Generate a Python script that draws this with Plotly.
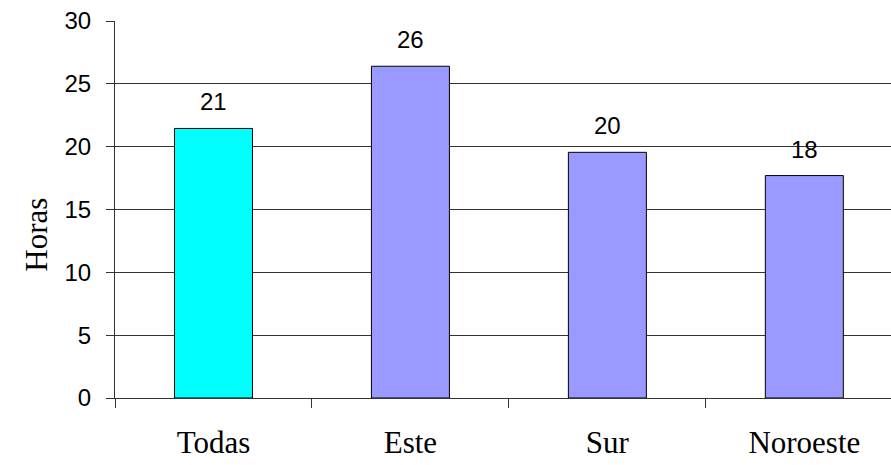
import plotly.graph_objects as go

# Average hours per region
categories = ["Todas", "Este", "Sur", "Noroeste"]
hours = [21.45, 26.4, 19.55, 17.7]
bar_colors = ["#00FFFF", "#9999FF", "#9999FF", "#9999FF"]
y_ticks = [0, 5, 10, 15, 20, 25, 30]

fig = go.Figure()

fig.add_trace(go.Bar(
    x=categories,
    y=hours,
    width=0.396,
    marker=dict(color=bar_colors, line=dict(color="#000000", width=1)),
    hoverinfo="skip",
))

# Value labels above each bar
for cat, val in zip(categories, hours):
    fig.add_annotation(
        x=cat, y=val, text=f"{val:.0f}", showarrow=False,
        yanchor="bottom", yshift=11,
        font=dict(family="Liberation Sans, Arial, sans-serif", size=24, color="#000000"),
    )

# Y-axis title
fig.add_annotation(
    xref="paper", yref="paper", x=-0.101, y=0.432,
    text="Horas", textangle=-90, showarrow=False,
    xanchor="center", yanchor="middle",
    font=dict(family="Liberation Serif, Times New Roman, serif", size=31, color="#000000"),
)

fig.update_layout(
    width=891, height=465,
    margin=dict(l=115, r=0, t=21, b=67),
    paper_bgcolor="#FFFFFF",
    plot_bgcolor="#FFFFFF",
    showlegend=False,
    bargap=0.6,
)

fig.update_xaxes(
    type="category",
    range=[-0.5, 3.44],
    tickson="boundaries",
    ticks="outside", ticklen=9, tickcolor="#333333", tickwidth=1,
    showline=True, linecolor="#333333", linewidth=1,
    showgrid=False,
    tickfont=dict(family="Liberation Serif, Times New Roman, serif", size=31, color="#000000"),
    ticklabelstandoff=17,
)

fig.update_yaxes(
    range=[0, 30],
    tickvals=y_ticks,
    ticks="outside", ticklen=8, tickcolor="#333333", tickwidth=1,
    showline=True, linecolor="#333333", linewidth=1,
    showgrid=True, gridcolor="#333333", gridwidth=1,
    zeroline=False,
    tickfont=dict(family="Liberation Sans, Arial, sans-serif", size=24, color="#000000"),
    ticklabelstandoff=10,
)

fig.write_html("out.html")
